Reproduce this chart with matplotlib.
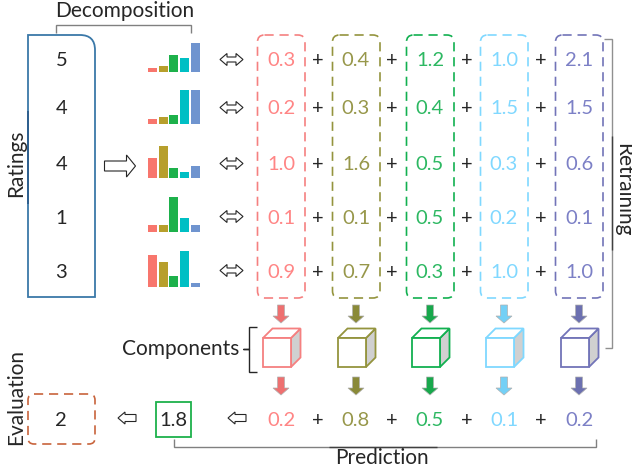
import matplotlib
matplotlib.use('Agg')
import matplotlib.pyplot as plt
from matplotlib.patches import FancyBboxPatch, PathPatch, Polygon, Rectangle
from matplotlib.path import Path

plt.rcParams['font.family'] = ['Lato', 'DejaVu Sans']

ratings = ['5', '4', '4', '1', '3']
comp_labels = [
    ['0.3', '0.4', '1.2', '1.0', '2.1'],
    ['0.2', '0.3', '0.4', '1.5', '1.5'],
    ['1.0', '1.6', '0.5', '0.3', '0.6'],
    ['0.1', '0.1', '0.5', '0.2', '0.1'],
    ['0.9', '0.7', '0.3', '1.0', '1.0'],
]
# heights of the little bars, last one in row 5 is clearly not 1.0 in the picture
bar_values = [
    [0.3, 0.4, 1.2, 1.0, 2.1],
    [0.2, 0.3, 0.4, 1.5, 1.5],
    [1.0, 1.6, 0.5, 0.3, 0.6],
    [0.1, 0.1, 0.5, 0.2, 0.1],
    [0.9, 0.7, 0.3, 1.0, 0.1],
]
pred_labels = ['0.2', '0.8', '0.5', '0.1', '0.2']
prediction = '1.8'
actual = '2'

bar_colors = ['#F8766D', '#B79F2C', '#1DB14B', '#00BFC4', '#6F94CF']
box_colors = ['#F58080', '#94943E', '#12B050', '#7FD8FF', '#7274B8']
text_colors = ['#FF8585', '#97974A', '#2DB862', '#80D8FF', '#7C80C6']
arrow_colors = ['#EE7070', '#8A8A38', '#18A84C', '#74D0F6', '#6C70B0']

row_y = [60, 108, 164, 217, 271]
col_x = [281, 356, 430, 504, 579]
plus_x = [318, 392, 467, 541]
bar_base = [72, 124, 178, 232, 287]
bar_x = [152, 163, 173.5, 184.5, 195]
bar_scale = [29, 34, 32, 35, 36]

fig = plt.figure(figsize=(6.32, 4.75), dpi=100)
ax = fig.add_axes([0, 0, 1, 1])
ax.set_xlim(0, 632)
ax.set_ylim(475, 0)
ax.axis('off')

dark = '#262626'
fs = 15
num_fs = 14.5


def line(xs, ys, color='#808080', lw=1.0):
    ax.plot(xs, ys, color=color, lw=lw, solid_capstyle='butt', solid_joinstyle='miter')


def down_arrow(x, y0, y1, color):
    w, hw, hl = 3.5, 8, 7
    pts = [(x-w, y0), (x+w, y0), (x+w, y1-hl), (x+hw, y1-hl), (x, y1), (x-hw, y1-hl), (x-w, y1-hl)]
    ax.add_patch(Polygon(pts, fc=color, ec='#B0B0B0', lw=0.5))


def open_arrow(x0, x1, y, both=False, h=3.5, hw=6.5, hl=7, lw=0.8):
    # x1 is the tip, x0 the tail (or the second tip)
    s = 1 if x1 > x0 else -1
    if both:
        pts = [(x0, y), (x0+s*hl, y-hw), (x0+s*hl, y-h), (x1-s*hl, y-h), (x1-s*hl, y-hw), (x1, y),
               (x1-s*hl, y+hw), (x1-s*hl, y+h), (x0+s*hl, y+h), (x0+s*hl, y+hw)]
    else:
        pts = [(x0, y-h), (x1-s*hl, y-h), (x1-s*hl, y-hw), (x1, y), (x1-s*hl, y+hw), (x1-s*hl, y+h), (x0, y+h)]
    ax.add_patch(Polygon(pts, fc='white', ec=dark, lw=lw))


def cube(x, color):
    # front face x..x+28, y 338..367, depth goes up and right
    top, bot, d = 338, 367, 9.5
    w = 28
    ax.add_patch(Polygon([(x+w, top), (x+w+d, top-d), (x+w+d, bot-d), (x+w, bot)],
                         fc='#D0D0D0', ec=color, lw=1.3))
    ax.add_patch(Polygon([(x, top), (x+d, top-d), (x+w+d, top-d), (x+w, top)], fc='white', ec=color, lw=1.3))
    ax.add_patch(Rectangle((x, top), w, bot-top, fc='white', ec=color, lw=1.3))


def dashed_box(x0, y0, x1, y1, color, r=7, lw=1.2):
    ax.add_patch(FancyBboxPatch((x0, y0), x1-x0, y1-y0, boxstyle=f'round,pad=0,rounding_size={r}',
                                fc='none', ec=color, lw=lw, ls=(0, (5.5, 3.5))))


# ratings column, only the top right corner is rounded
verts = [(28, 35), (80, 35), (95, 35), (95, 50), (95, 297), (28, 297), (28, 35)]
codes = [Path.MOVETO, Path.LINETO, Path.CURVE3, Path.CURVE3, Path.LINETO, Path.LINETO, Path.CLOSEPOLY]
ax.add_patch(PathPatch(Path(verts, codes), fc='none', ec='#3A78A8', lw=1.3))
line([27.5, 27.5], [111, 204], color='#2F5F8F', lw=1.4)

for i, r in enumerate(ratings):
    ax.text(61.5, row_y[i] + 1, r, ha='center', va='center', fontsize=num_fs, color=dark)
    top = max(bar_values[i])
    for j, v in enumerate(bar_values[i]):
        ax.bar(bar_x[j], v/top*bar_scale[i], width=9, bottom=bar_base[i]-v/top*bar_scale[i],
               color=bar_colors[j], lw=0)
    open_arrow(220, 243, row_y[i] - 0.5, both=True, h=2.5, hw=6, hl=7)
    for j, lab in enumerate(comp_labels[i]):
        ax.text(col_x[j], row_y[i] + 1, lab, ha='center', va='center', fontsize=num_fs, color=text_colors[j])
    for x in plus_x:
        ax.text(x, row_y[i] + 1, '+', ha='center', va='center', fontsize=num_fs, color=dark)

open_arrow(104.5, 135.5, 166, h=5, hw=11, hl=9)

for j in range(5):
    dashed_box(col_x[j]-23.5, 35, col_x[j]+24, 298, box_colors[j])
    down_arrow(col_x[j], 305, 323, arrow_colors[j])
    down_arrow(col_x[j], 377, 395, arrow_colors[j])
    cube(col_x[j]-18, box_colors[j])
    ax.text(col_x[j], 421, pred_labels[j], ha='center', va='center', fontsize=num_fs, color=text_colors[j])

for x in plus_x:
    ax.text(x, 421, '+', ha='center', va='center', fontsize=num_fs, color=dark)

# brackets
line([56, 56, 190.5, 190.5], [33, 25, 25, 33])
line([604, 612, 612, 605], [38.5, 38.5, 347.5, 347.5], color='#909090')
line([612, 612], [136, 250], color='#404040')
line([174, 174, 595.5, 595.5], [439, 446.5, 446.5, 439])
line([329, 437], [446.5, 446.5], color='#404040')
line([256.5, 249, 249, 243, 249, 249, 256.5], [327, 327, 349, 349, 349, 372, 372], color=dark)

# labels
ax.text(125, 11, 'Decomposition', ha='center', va='center', fontsize=fs, color=dark)
ax.text(16, 163, 'Ratings', rotation=90, ha='center', va='center', fontsize=fs, color=dark)
ax.text(16, 397, 'Evaluation', rotation=90, ha='center', va='center', fontsize=fs, color=dark)
ax.text(623, 190, 'Retraining', rotation=-90, ha='center', va='center', fontsize=fs, color=dark)
ax.text(181, 349, 'Components', ha='center', va='center', fontsize=fs, color=dark)
ax.text(382, 458, 'Prediction', ha='center', va='center', fontsize=fs, color=dark)

# bottom row
dashed_box(28, 394, 95, 444, '#C8643C', r=6)
ax.text(61, 421, actual, ha='center', va='center', fontsize=num_fs, color=dark)
open_arrow(136, 118, 418, h=3.5, hw=6, hl=7)
ax.add_patch(Rectangle((155.5, 402), 35, 35, fc='white', ec='#1DB14B', lw=1.3))
ax.text(173, 421, prediction, ha='center', va='center', fontsize=num_fs, color=dark)
open_arrow(246, 228, 418, h=3.5, hw=6, hl=7)

fig.savefig('out.png', dpi=100)
